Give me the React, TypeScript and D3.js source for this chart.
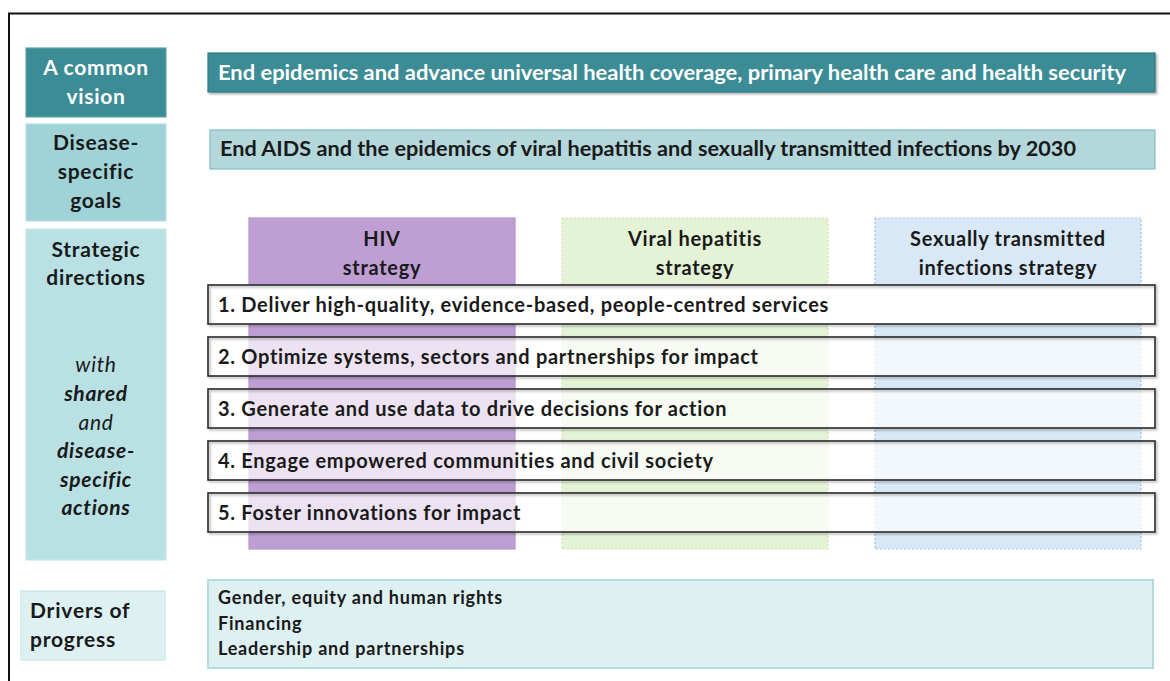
import React, { useRef, useEffect } from 'react';
import * as d3 from 'd3';

// Left-hand row headers
const visionLabel = ['A common', 'vision'];
const goalsLabel = ['Disease-', 'specific', 'goals'];
const directionsLabel = ['Strategic', 'directions'];
const actionsLabel = [
  { text: 'with', bold: false },
  { text: 'shared', bold: true },
  { text: 'and', bold: false },
  { text: 'disease-', bold: true },
  { text: 'specific', bold: true },
  { text: 'actions', bold: true },
];
const driversLabel = ['Drivers of', 'progress'];

const visionText = 'End epidemics and advance universal health coverage, primary health care and health security';
const goalsText = 'End AIDS and the epidemics of viral hepatitis and sexually transmitted infections by 2030';

const strategies = [
  { key: 'hiv', lines: ['HIV', 'strategy'] },
  { key: 'hep', lines: ['Viral hepatitis', 'strategy'] },
  { key: 'sti', lines: ['Sexually transmitted', 'infections strategy'] },
];

const directions = [
  '1. Deliver high-quality, evidence-based, people-centred services',
  '2. Optimize systems, sectors and partnerships for impact',
  '3. Generate and use data to drive decisions for action',
  '4. Engage empowered communities and civil society',
  '5. Foster innovations for impact',
];

const drivers = [
  'Gender, equity and human rights',
  'Financing',
  'Leadership and partnerships',
];

const FONT = 'Lato, "Open Sans", sans-serif';
const INK = '#1a1a1a';
const SPACING = 0.7;

const strategyStyle = {
  hiv: { fill: '#bf9fd3', stroke: '#b596cb', dash: null },
  hep: { fill: '#e4f2d5', stroke: '#cbe6b2', dash: '2,2' },
  sti: { fill: '#d8e8f6', stroke: '#9fc5e6', dash: '2,2' },
};

const App = () => {
  const svgRef = useRef(null);

  useEffect(() => {
    const W = 1170;
    const H = 681;
    const svg = d3.select(svgRef.current);
    svg.selectAll('*').remove();
    svg.attr('width', W).attr('height', H);

    const defs = svg.append('defs');
    const sh = defs.append('filter').attr('id', 'shadow')
      .attr('x', '-5%').attr('y', '-20%').attr('width', '110%').attr('height', '150%');
    sh.append('feDropShadow').attr('dx', 1.5).attr('dy', 1.5)
      .attr('stdDeviation', 1).attr('flood-color', '#000').attr('flood-opacity', 0.35);

    svg.append('rect').attr('width', W).attr('height', H).attr('fill', '#fff');

    // outer frame
    svg.append('rect')
      .attr('x', 9).attr('y', 13.5).attr('width', W + 20).attr('height', H + 20)
      .attr('fill', 'none').attr('stroke', '#111').attr('stroke-width', 2);

    const box = (x, y, w, h, fill, stroke, extra = {}) => {
      const r = svg.append('rect')
        .attr('x', x).attr('y', y).attr('width', w).attr('height', h)
        .attr('fill', fill).attr('stroke', stroke || 'none').attr('stroke-width', 1.2);
      Object.entries(extra).forEach(([k, v]) => r.attr(k, v));
      return r;
    };

    const lines = (arr, x, y0, lh, opts) => {
      const g = svg.append('g');
      arr.forEach((d, i) => {
        const item = typeof d === 'string' ? { text: d } : d;
        g.append('text')
          .attr('x', x)
          .attr('y', y0 + i * lh)
          .attr('dy', '0.35em')
          .attr('text-anchor', opts.anchor || 'middle')
          .attr('font-family', FONT)
          .attr('font-size', opts.size)
          .attr('font-weight', item.bold === false ? 400 : (opts.weight || 700))
          .attr('font-style', opts.italic ? 'italic' : 'normal')
          .attr('letter-spacing', opts.spacing ?? SPACING)
          .attr('fill', opts.color || INK)
          .text(item.text);
      });
    };

    // ---- left column
    const leftX = 26;
    const leftW = 140;
    const leftC = leftX + leftW / 2;

    box(leftX, 48, leftW, 69, '#3b8c95', '#5fa3ab');
    lines(visionLabel, leftC, 68, 29, { size: 21, color: '#fff' });

    box(leftX, 124, leftW, 97, '#9fd3d8', '#b8e0e3');
    lines(goalsLabel, leftC, 143, 29, { size: 21 });

    box(leftX, 229, leftW, 331, '#b9e1e4', '#c8e8ea');
    lines(directionsLabel, leftC, 250, 28, { size: 21 });
    lines(actionsLabel, leftC, 365, 28.6, { size: 21, italic: true });

    box(21, 591, 144, 69, '#ddf0f2', '#c9e6ea');
    lines(driversLabel, 30, 611, 29, { size: 21, anchor: 'start', spacing: 0.8 });

    // ---- vision and goal bars
    const barX = 208;
    const barR = 1155;

    box(barX, 53, barR - barX, 39, '#3b8c95', '#2f7c85', { filter: 'url(#shadow)' });
    svg.append('text')
      .attr('x', 218).attr('y', 73).attr('dy', '0.35em')
      .attr('font-family', FONT).attr('font-size', 20).attr('font-weight', 700)
      .attr('fill', '#fff')
      .attr('textLength', 908).attr('lengthAdjust', 'spacingAndGlyphs')
      .text(visionText);

    box(barX + 2, 130, barR - barX - 2, 39, '#b3d7da', '#7fbfc6');
    svg.append('text')
      .attr('x', 220).attr('y', 149).attr('dy', '0.35em')
      .attr('font-family', FONT).attr('font-size', 20).attr('font-weight', 700)
      .attr('fill', INK)
      .attr('textLength', 856).attr('lengthAdjust', 'spacingAndGlyphs')
      .text(goalsText);

    // ---- strategy columns
    const xCol = d3.scaleBand()
      .domain(strategies.map(d => d.key))
      .range([249, 1141])
      .paddingInner(0.15);

    const colTop = 218;
    const colBottom = 549;

    strategies.forEach(s => {
      const st = strategyStyle[s.key];
      const r = box(xCol(s.key), colTop, xCol.bandwidth(), colBottom - colTop, st.fill, st.stroke);
      if (st.dash) r.attr('stroke-dasharray', st.dash);
      lines(s.lines, xCol(s.key) + xCol.bandwidth() / 2, 239, 29, { size: 20 });
    });

    // ---- strategic direction rows
    const yRow = d3.scaleBand()
      .domain(directions)
      .range([285, 532])
      .paddingInner(0.25);

    directions.forEach((d, i) => {
      // fill without shadow so the columns show through evenly
      box(barX, yRow(d), barR - barX, yRow.bandwidth(),
        i === 0 ? '#ffffff' : 'rgba(255,255,255,0.7)', 'none');
      // outline with a soft drop shadow
      box(barX, yRow(d), barR - barX, yRow.bandwidth(), 'none', '#2a2a2a',
        { filter: 'url(#shadow)', 'stroke-width': 1.6 });
      svg.append('text')
        .attr('x', 218).attr('y', yRow(d) + yRow.bandwidth() / 2).attr('dy', '0.35em')
        .attr('font-family', FONT).attr('font-size', 20).attr('font-weight', 700)
        .attr('letter-spacing', SPACING)
        .attr('fill', INK)
        .text(d);
    });

    // ---- drivers of progress
    box(barX, 580, 1153 - barX, 88, '#ddf0f2', '#b3dce1', { 'stroke-width': 2 });
    lines(drivers, 218, 598, 25.5, { size: 18, anchor: 'start', spacing: 0.8 });
  }, []);

  return (
    <div style={{ position: 'absolute', left: 0, top: 0 }}>
      <svg ref={svgRef} style={{ display: 'block' }}></svg>
    </div>
  );
};

export default App;
